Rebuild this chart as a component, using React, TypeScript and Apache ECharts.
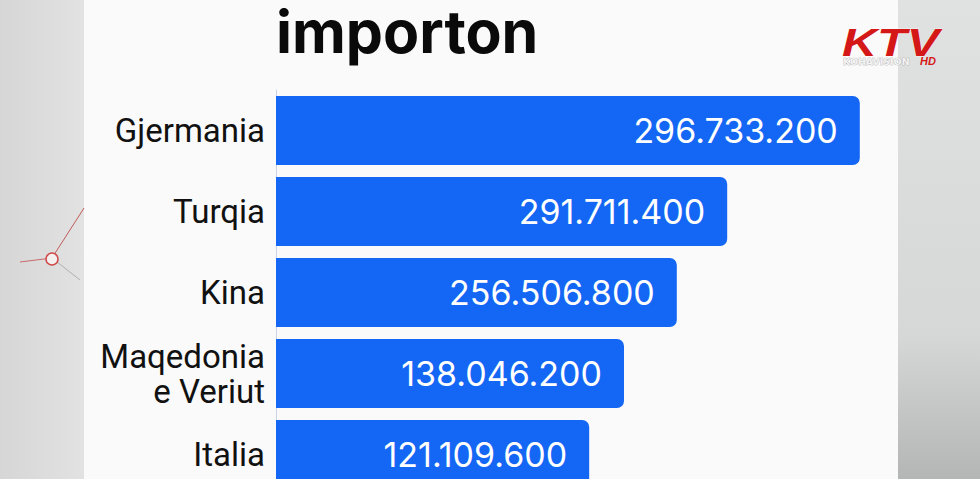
import React, { useEffect, useRef } from "react";
import * as echarts from "echarts";

const categories = ["Gjermania", "Turqia", "Kina", "Maqedonia\ne Veriut", "Italia"];
const importValues = [296733200, 291711400, 256506800, 138046200, 121109600];
// bar lengths as drawn in the broadcast graphic (percent of full bar scale)
const barLengths = [97.3, 75.2, 66.8, 58.0, 52.2];
const titleText = "importon";

const fmt = (v: number) => String(v).replace(/\B(?=(\d{3})+(?!\d))/g, ".");

export default function App() {
  const ref = useRef<HTMLDivElement>(null);
  useEffect(() => {
    if (!ref.current) return;
    const chart = echarts.init(ref.current, null, { renderer: "svg" });
    chart.setOption({
      animation: false,
      backgroundColor: "#dcdddd",
      graphic: [
        {
          type: "rect",
          z: -10,
          shape: { x: 0, y: 0, width: 84, height: 520 },
          style: {
            fill: new echarts.graphic.LinearGradient(0, 0, 1, 0, [
              { offset: 0, color: "#d6d6d6" },
              { offset: 1, color: "#e2e2e2" },
            ]),
          },
        },
        {
          type: "rect",
          z: -10,
          shape: { x: 84, y: 0, width: 814, height: 520 },
          style: { fill: "#fafafa" },
        },
        {
          type: "rect",
          z: -10,
          shape: { x: 898, y: 0, width: 82, height: 479 },
          style: {
            fill: new echarts.graphic.LinearGradient(0, 0, 0, 1, [
              { offset: 0, color: "#e0e1e1" },
              { offset: 0.7, color: "#d6d8d8" },
              { offset: 1, color: "#b4b6b6" },
            ]),
          },
        },
        {
          type: "line",
          shape: { x1: 52, y1: 258, x2: 84, y2: 208 },
          style: { stroke: "#c25a5a", lineWidth: 1 },
        },
        {
          type: "line",
          shape: { x1: 20, y1: 262, x2: 52, y2: 258 },
          style: { stroke: "#c86a6a", lineWidth: 1 },
        },
        {
          type: "line",
          shape: { x1: 52, y1: 258, x2: 80, y2: 280 },
          style: { stroke: "#b0b0b0", lineWidth: 1 },
        },
        {
          type: "circle",
          shape: { cx: 52, cy: 259, r: 6 },
          style: { fill: "#f4f0f0", stroke: "#d04848", lineWidth: 1.5 },
        },
        {
          type: "text",
          x: 842,
          y: 24,
          scaleX: 1.28,
          style: {
            text: "KTV",
            font: "italic 900 38px 'Liberation Sans', Arial, sans-serif",
            fill: "#d41818",
            stroke: "#ffffff",
            lineWidth: 0.5,
          },
        },
        {
          type: "text",
          x: 843,
          y: 57,
          scaleX: 1.05,
          style: {
            text: "KOHAVISION",
            font: "700 9px 'DejaVu Sans', sans-serif",
            fill: "#f2f2f2",
            stroke: "#a0a0a0",
            lineWidth: 0.6,
          },
        },
        {
          type: "text",
          x: 920,
          y: 55,
          style: {
            text: "HD",
            font: "italic 700 11px 'Liberation Sans', Arial, sans-serif",
            fill: "#d41818",
          },
        },
      ],
      title: {
        text: titleText,
        left: 276,
        top: 0,
        padding: 0,
        textStyle: {
          fontFamily: "Inter, 'Noto Sans', sans-serif",
          fontWeight: 700,
          fontSize: 59,
          lineHeight: 62,
          color: "#0a0a0a",
        },
      },
      grid: { left: 276, top: 90, width: 600, height: 405, containLabel: false },
      xAxis: {
        type: "value",
        min: 0,
        max: 100,
        show: false,
      },
      yAxis: {
        type: "category",
        data: categories,
        inverse: true,
        axisTick: { show: false },
        axisLine: { show: true, lineStyle: { color: "#c9d3e6", width: 1 } },
        axisLabel: {
          margin: 11,
          fontFamily: "Roboto, 'Noto Sans', sans-serif",
          fontSize: 33,
          lineHeight: 35,
          color: "#111111",
          align: "right",
        },
      },
      series: [
        {
          type: "bar",
          data: barLengths,
          barWidth: 69,
          itemStyle: { color: "#1466f4", borderRadius: [0, 7, 7, 0] },
          label: {
            show: true,
            position: "insideRight",
            distance: 22,
            formatter: (p: any) => fmt(importValues[p.dataIndex]),
            fontFamily: "Inter, Roboto, sans-serif",
            fontSize: 34,
            color: "#ffffff",
          },
        },
      ],
    });
    return () => chart.dispose();
  }, []);
  return (
    <div
      ref={ref}
      style={{ position: "fixed", left: 0, top: 0, width: 980, height: 520 }}
    />
  );
}
